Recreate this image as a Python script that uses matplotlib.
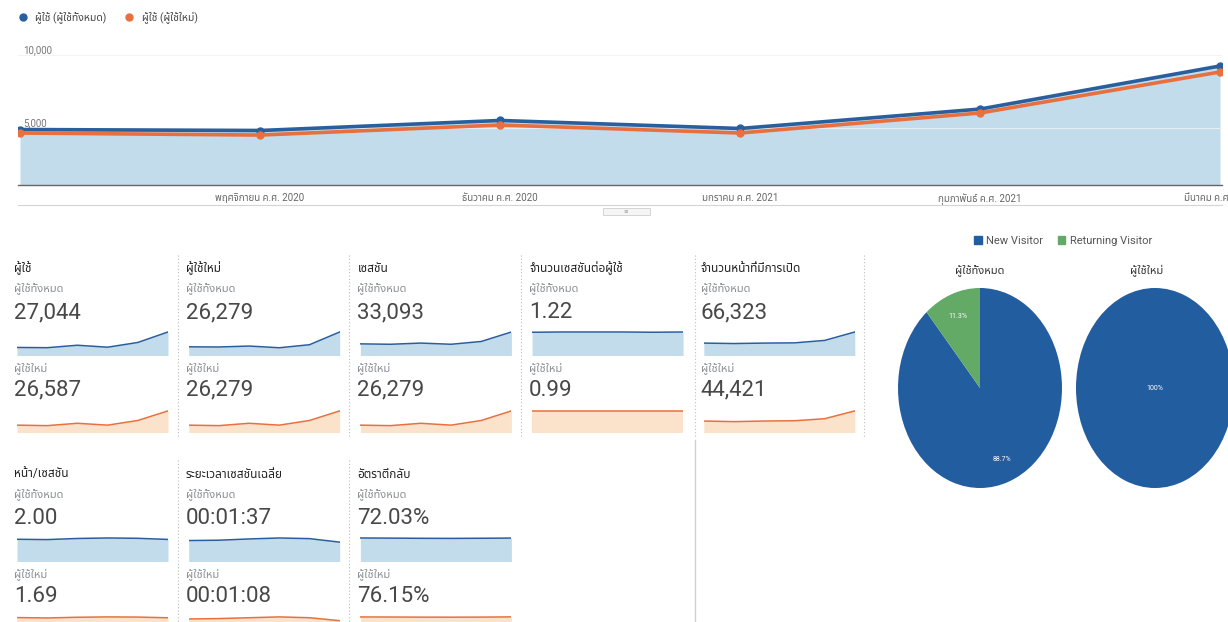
import matplotlib
matplotlib.use("Agg")
import matplotlib.pyplot as plt
from matplotlib import font_manager
from matplotlib.lines import Line2D
from matplotlib.patches import Rectangle

# pick an installed Thai font, numbers stay in Roboto
names = {f.name for f in font_manager.fontManager.ttflist}
thai = next((n for n in ["Noto Sans Thai", "Sarabun", "Prompt", "Kanit", "Anuphan", "Bai Jamjuree"]
             if n in names), "DejaVu Sans")
FAM = ["Roboto", thai]
plt.rcParams["font.family"] = FAM

W, H = 1228, 622

# ---- main trend (monthly users) ----
months = ["ตุลาคม ค.ศ. 2020", "พฤศจิกายน ค.ศ. 2020", "ธันวาคม ค.ศ. 2020",
          "มกราคม ค.ศ. 2021", "กุมภาพันธ์ ค.ศ. 2021", "มีนาคม ค.ศ. 2021"]
users_all = [4900, 4830, 5520, 4970, 6300, 9250]
users_new = [4660, 4520, 5210, 4660, 6030, 8840]
legend_labels = ["ผู้ใช้ (ผู้ใช้ทั้งหมด)", "ผู้ใช้ (ผู้ใช้ใหม่)"]

# ---- scorecards ----
metric_titles = ["ผู้ใช้", "ผู้ใช้ใหม่", "เซสชัน", "จำนวนเซสชันต่อผู้ใช้", "จำนวนหน้าที่มีการเปิด",
                 "หน้า/เซสชัน", "ระยะเวลาเซสชันเฉลี่ย", "อัตราตีกลับ"]
segment_all = "ผู้ใช้ทั้งหมด"
segment_new = "ผู้ใช้ใหม่"
values_all = ["27,044", "26,279", "33,093", "1.22", "66,323", "2.00", "00:01:37", "72.03%"]
values_new = ["26,587", "26,279", "26,279", "0.99", "44,421", "1.69", "00:01:08", "76.15%"]
trend_all = [
    users_all,
    [4750, 4700, 4950, 4500, 5300, 8650],
    [5300, 5200, 5500, 5200, 5900, 8300],
    [1.21, 1.22, 1.22, 1.22, 1.21, 1.22],
    [9800, 9600, 9800, 9900, 11000, 14800],
    [1.97, 1.95, 2.02, 2.05, 2.03, 1.96],
    [95, 96, 100, 103, 101, 90],
    [72.5, 72.2, 71.8, 71.6, 71.9, 72.3],
]
trend_new = [
    users_new,
    users_new,
    users_new,
    [0.99, 0.99, 0.99, 0.99, 0.99, 0.99],
    [6900, 6700, 6900, 7000, 7700, 10400],
    [1.68, 1.66, 1.70, 1.72, 1.71, 1.67],
    [67, 68, 70, 72, 70, 63],
    [76.4, 76.2, 75.9, 75.8, 76.0, 76.5],
]

# ---- visitor type pies ----
visitor_types = ["New Visitor", "Returning Visitor"]
share_all = [88.7, 11.3]
share_new = [100.0]
pie_titles = ["ผู้ใช้ทั้งหมด", "ผู้ใช้ใหม่"]

BLUE = "#2a5f9e"
ORANGE = "#e8703f"
FILL_BLUE = "#c2dcec"
FILL_ORANGE = "#fbe2cb"
PIE_BLUE = "#215d9f"
PIE_GREEN = "#62aa66"


def add_ax(l, t, r, b):
    return fig.add_axes([l / W, 1 - b / H, (r - l) / W, (b - t) / H])


def ftext(x, y, s, **kw):
    kw.setdefault("va", "center")
    return fig.text(x / W, 1 - y / H, s, **kw)


def fline(x0, y0, x1, y1, **kw):
    fig.add_artist(Line2D([x0 / W, x1 / W], [1 - y0 / H, 1 - y1 / H], **kw))


fig = plt.figure(figsize=(W / 100, H / 100), dpi=100)
fig.patch.set_facecolor("white")

# main line chart
ax = add_ax(18, 40, 1222, 185)
xs = list(range(len(months)))
ax.fill_between(xs, users_all, 0, color=FILL_BLUE, lw=0)
ax.plot(xs, users_all, color=BLUE, lw=2.6, marker="o", ms=5, zorder=3)
ax.plot(xs, users_new, color=ORANGE, lw=2.6, marker="o", ms=5, zorder=4)
ax.set_xlim(-0.0083, 5.0083)
ax.set_ylim(1100, 11030)
ax.set_yticks([5000, 10000])
ax.set_yticklabels(["5,000", "10,000"], fontsize=7, color="#777", ha="left", va="bottom")
ax.tick_params(axis="y", length=0, pad=-4)
ax.set_xticks(xs[1:])
ax.set_xticklabels(months[1:], fontsize=7, color="#666")
ax.tick_params(axis="x", length=0, pad=6)
ax.grid(axis="y", color="#f1f1f1", lw=0.6)
for s in ["top", "left", "right"]:
    ax.spines[s].set_visible(False)
ax.spines["bottom"].set_color("#666")
ax.spines["bottom"].set_linewidth(1.0)

fig.legend(handles=[Line2D([], [], marker="o", ls="", color=BLUE, ms=5),
                    Line2D([], [], marker="o", ls="", color=ORANGE, ms=5)],
           labels=legend_labels, loc="upper left", bbox_to_anchor=(8 / W, 1 - 7 / H),
           ncol=2, frameon=False, fontsize=7.5, handletextpad=0.2, columnspacing=1.2,
           labelcolor="#444", borderaxespad=0)

fline(18, 205, 1222, 205, color="#d4d4d4", lw=0.8)
fig.add_artist(Rectangle((603 / W, 1 - 215 / H), 47 / W, 7 / H, transform=fig.transFigure,
                         facecolor="#f5f5f5", edgecolor="#cfcfcf", lw=0.6))
ftext(626, 211, "≡", fontsize=4, color="#999", ha="center", family="DejaVu Sans")

# scorecards
for i, title in enumerate(metric_titles):
    col = i if i < 5 else i - 5
    top = 268 if i < 5 else 474
    x0 = 14 + col * 171.7
    ftext(x0, top, title, fontsize=8.5, color="#222")
    ftext(x0, top + 20, segment_all, fontsize=8, color="#8a8f96")
    ftext(x0, top + 45, values_all[i], fontsize=16, color="#484848")
    ftext(x0, top + 100, segment_new, fontsize=8, color="#8a8f96")
    ftext(x0, top + 122, values_new[i], fontsize=16, color="#484848")

    for data, lc, fc, t0, t1 in [
        (trend_all[i], BLUE, FILL_BLUE, top + 63, top + 87),
        (trend_new[i], ORANGE, FILL_ORANGE, top + 142, top + 164),
    ]:
        sp = add_ax(x0 + 3, t0, x0 + 154, t1)
        sx = list(range(len(data)))
        sp.fill_between(sx, data, 0, color=fc, lw=0)
        sp.plot(sx, data, color=lc, lw=1.1)
        top_v = max(data)
        sp.set_ylim(0.3 * top_v, 1.03 * top_v)
        sp.set_xlim(0, len(data) - 1)
        sp.axis("off")

# separators
dot = dict(color="#bdbdbd", lw=0.8, ls=(0, (1, 2)))
for x in [178, 349, 521, 695, 864]:
    fline(x, 255, x, 438, **dot)
for x in [178, 349]:
    fline(x, 460, x, 622, **dot)
fline(695, 440, 695, 622, color="#d0d0d0", lw=1.0)

# pies
fig.legend(handles=[Rectangle((0, 0), 1, 1, color=PIE_BLUE), Rectangle((0, 0), 1, 1, color=PIE_GREEN)],
           labels=visitor_types, loc="center", bbox_to_anchor=(1063 / W, 1 - 241 / H), ncol=2,
           frameon=False, fontsize=8, labelcolor="#555", handlelength=0.7, handleheight=0.7,
           handletextpad=0.4, columnspacing=1.3, borderaxespad=0)

pa = add_ax(898, 288, 1062, 488)
pa.pie(share_all, colors=[PIE_BLUE, PIE_GREEN], startangle=90, counterclock=False,
       autopct="%.1f%%", pctdistance=0.76, radius=1,
       textprops=dict(color="white", fontsize=5))
pa.set_aspect("auto")
pa.set_xlim(-1, 1)
pa.set_ylim(-1, 1)
ftext(980, 270, pie_titles[0], fontsize=8, color="#333", ha="center")

pb = add_ax(1076, 288, 1234, 488)
pb.pie(share_new, colors=[PIE_BLUE], startangle=90, counterclock=False, radius=1)
pb.text(0, 0, "%.0f%%" % share_new[0], color="white", fontsize=5, ha="center", va="center")
pb.set_aspect("auto")
pb.set_xlim(-1, 1)
pb.set_ylim(-1, 1)
ftext(1147, 270, pie_titles[1], fontsize=8, color="#333", ha="center")

fig.savefig("out.png", dpi=100)
